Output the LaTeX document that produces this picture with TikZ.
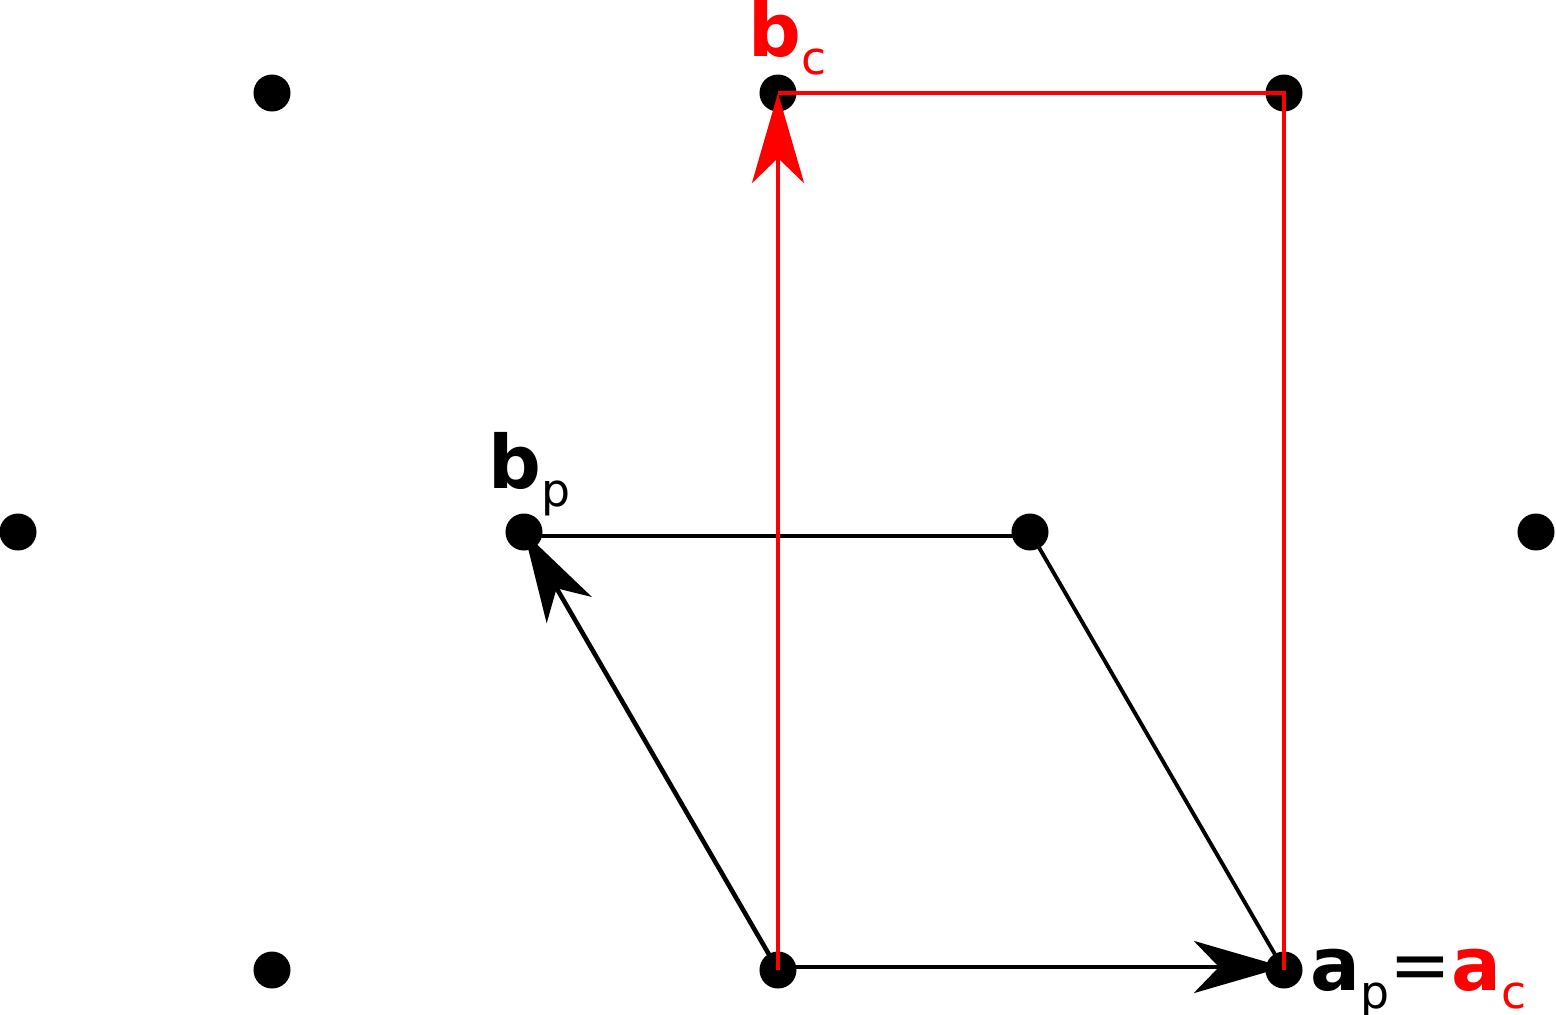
\documentclass[tikz,border=0pt]{standalone}
\usepackage{fontspec}
\setmainfont{DejaVu Sans}
\usetikzlibrary{arrows.meta}
\begin{document}
\begin{tikzpicture}[x=0.01cm,y=-0.01cm,
  dot/.style={circle,fill=black,inner sep=0pt,minimum size=0.37cm},
  vec/.style={line width=1.3pt,-{Stealth[length=0.9cm,width=0.52cm,inset=0.25cm]}},
  edge/.style={line width=1.1pt},
  lab/.style={inner sep=0pt,font=\fontsize{21}{24}\selectfont}]
\useasboundingbox (0,0) rectangle (1556,1014);
\foreach \n/\x/\y in {d1/272/93,d2/778/93,d3/1284/93,d4/18/532,p2/524/532,p3/1030/532,d7/1536/532,d8/272/970,o/778/970,p1/1284/970}
  \node[dot] (\n) at (\x,\y) {};
\coordinate (o0) at (778,970);
\coordinate (o1) at (778,967);
\coordinate (a0) at (1284,970);
\coordinate (a1) at (1284,967);
\coordinate (b0) at (524,532);
\coordinate (b1) at (524,536);
\coordinate (c0) at (1030,532);
\coordinate (c1) at (1030,536);
\coordinate (r1) at (778,93);
\coordinate (r2) at (1284,93);
\draw[edge] (b1) -- (c1);
\draw[edge] (c0) -- (a0);
\draw[vec] (o1) -- (a1);
\draw[vec] (o0) -- (b0);
\draw[edge,red,line width=1.3pt] (r1) -- (r2) -- (a0);
\draw[vec,red] (o0) -- (r1);
\node[lab,anchor=base west] (lbp) at (488,488) {\textbf{b}\raisebox{-0.45ex}{\fontsize{13}{16}\selectfont p}};
\node[lab,anchor=base west,red] (lbc) at (748,56) {\textbf{b}\raisebox{-0.45ex}{\fontsize{13}{16}\selectfont c}};
\node[lab,anchor=base west] (lac) at (1310,990) {\textbf{a}\raisebox{-0.45ex}{\fontsize{13}{16}\selectfont p}=\textcolor{red}{\textbf{a}\raisebox{-0.45ex}{\fontsize{13}{16}\selectfont c}}};
\end{tikzpicture}
\end{document}
